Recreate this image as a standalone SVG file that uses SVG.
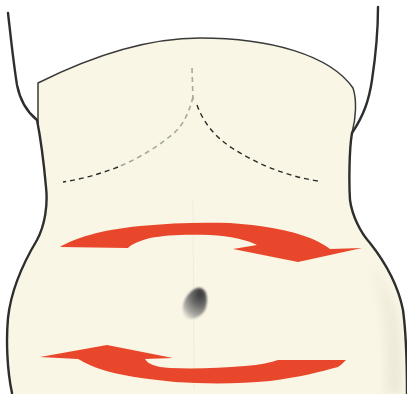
<svg xmlns="http://www.w3.org/2000/svg" width="407" height="394" viewBox="0 0 407 394">
  <defs>
    <style>
      .outline { fill: none; stroke: #2e2e2e; stroke-width: 2.4; stroke-linecap: round; stroke-linejoin: round; }
      .panel { fill: none; stroke: #3a3a3a; stroke-width: 1.5; stroke-linejoin: round; }
      .dash { fill: none; stroke: #2b2b2b; stroke-width: 1.4; stroke-dasharray: 5 4; }
      .dash-light { fill: none; stroke: #a8a8a0; stroke-width: 1.6; stroke-dasharray: 5 4; }
      .arrow { fill: #e8472b; stroke: none; }
    </style>
    <linearGradient id="sideShade" x1="0" y1="0" x2="1" y2="0">
      <stop offset="0" stop-color="#ebe7d8" stop-opacity="0"/>
      <stop offset="1" stop-color="#e6e2d3" stop-opacity="1"/>
    </linearGradient>
    <radialGradient id="navel" cx="0.72" cy="0.2" r="0.95">
      <stop offset="0" stop-color="#383838"/>
      <stop offset="0.4" stop-color="#6c6c6a"/>
      <stop offset="0.8" stop-color="#b4b3ac"/>
      <stop offset="1" stop-color="#dcdad0" stop-opacity="0.5"/>
    </radialGradient>
    <filter id="soft" x="-30%" y="-30%" width="160%" height="160%">
      <feGaussianBlur stdDeviation="1"/>
    </filter>
    <filter id="haze" x="-30%" y="-10%" width="160%" height="120%">
      <feGaussianBlur stdDeviation="4"/>
    </filter>
  </defs>

  <rect width="407" height="394" fill="#ffffff"/>

  <!-- torso skin -->
  <g id="torso">
    <path d="M38,83 C80,62 140,38 200,38 C270,38 330,55 353,88 C357,100 356,118 352,133 C349,150 349,185 350,200 C352,215 360,232 370,243 C385,262 398,285 403,310 C407,340 407,370 407,394 L12,394 C7,370 6,340 8,318 C11,290 22,265 37,240 C45,225 48,205 46,187 C44,165 40,145 38,127 Z" fill="#faf6e5"/>
    <!-- soft shadow along the right flank -->
    <path d="M362,250 C378,268 392,292 397,315 C401,340 402,370 402,394 L384,394 C386,360 384,325 378,300 C374,282 368,265 362,250 Z" fill="url(#sideShade)" filter="url(#haze)" opacity="0.8"/>
    <!-- faint midline -->
    <path d="M193,200 L194,390" fill="none" stroke="#f1ecda" stroke-width="1"/>
  </g>

  <!-- garment band edges -->
  <g id="band">
    <path class="panel" d="M38,127 L38,83 C80,62 140,38 200,38 C270,38 330,55 353,88 C357,100 356,118 352,133"/>
  </g>

  <!-- body contour -->
  <g id="contour">
    <path class="outline" d="M8,13 C10,30 13,60 17,85 C20,100 27,112 37,120 C40,135 44,165 46,187 C48,205 45,225 37,240 C22,265 11,290 8,318 C6,340 7,370 12,393"/>
    <path class="outline" d="M378,7 C378,35 375,60 372,80 C369,100 364,115 352,133 C349,150 349,185 350,200 C352,215 360,232 370,243 C385,262 398,285 403,310 C407,340 407,370 407,394"/>
  </g>

  <!-- rib margin guide lines -->
  <g id="ribs">
    <path class="dash-light" d="M192,68 L193,100"/>
    <path class="dash-light" d="M193,97 C189,112 184,124 174,133 C160,145 140,158 118,167"/>
    <path class="dash" d="M118,167 C100,174 82,179 63,182"/>
    <path class="dash" d="M197,105 C203,122 215,137 232,148 C255,163 285,176 318,181"/>
  </g>

  <!-- navel -->
  <g id="navel-mark">
    <path d="M201,288 C208,290 208,302 205,310 C201,317 192,321 186,318 C181,314 182,303 187,296 C192,290 196,287 201,288 Z" fill="url(#navel)" filter="url(#soft)"/>
  </g>

  <!-- circular motion arrows -->
  <g id="arrows">
    <path id="arrow-upper" class="arrow" d="M60,247 C75,238 100,230 140,226 C170,223 200,222 230,223 C260,225 290,230 310,238 C320,242 326,246 330,249 L362,248 L298,262 L233,249 L257,245 C248,240 230,236 210,235 C185,234 165,235 150,238 C138,241 131,245 128,248 Z"/>
    <path id="arrow-lower" class="arrow" d="M40,357 L107,345 L173,358 L145,359 C148,364 155,367 170,368 C195,369 220,368 245,366 C260,365 272,362 278,360 L346,360 C343,363 341,365 338,367 C320,372 300,377 270,381 C240,384 205,384 175,382 C145,379 118,375 100,369 C88,365 82,361 78,359 Z"/>
  </g>
</svg>
